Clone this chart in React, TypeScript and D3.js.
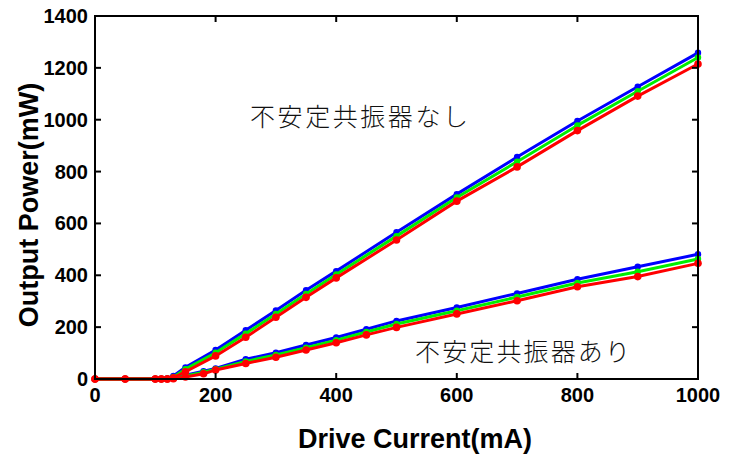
import React from "react";
import * as d3 from "d3";

const upperX = [0, 50, 100, 110, 120, 130, 150, 200, 250, 300, 350, 400, 500, 600, 700, 800, 900, 1000];
const upperBlue = [0, 0, 0, 0, 2, 12, 45, 112, 188, 264, 342, 416, 566, 713, 856, 995, 1127, 1258];
const upperGreen = [0, 0, 0, 0, 1, 8, 38, 101, 175, 251, 328, 403, 551, 700, 838, 978, 1110, 1240];
const upperRed = [0, 0, 0, 0, 0, 5, 28, 89, 161, 238, 315, 390, 536, 686, 818, 958, 1091, 1215];

const lowerX = [0, 50, 100, 110, 120, 130, 150, 180, 200, 250, 300, 350, 400, 450, 500, 600, 700, 800, 900, 1000];
const lowerBlue = [0, 0, 0, 0, 0, 3, 15, 30, 41, 76, 101, 131, 160, 192, 224, 276, 330, 385, 433, 481];
const lowerGreen = [0, 0, 0, 0, 0, 2, 12, 26, 38, 68, 93, 121, 150, 181, 212, 263, 316, 370, 414, 463];
const lowerRed = [0, 0, 0, 0, 0, 1, 8, 20, 35, 60, 84, 112, 140, 170, 199, 251, 302, 356, 395, 446];

const xTicks = [0, 200, 400, 600, 800, 1000];
const yTicks = [0, 200, 400, 600, 800, 1000, 1200, 1400];

const seriesColors = ["#0000ff", "#00ee00", "#ff0000"];

export default function App() {
  const left = 95, right = 698, top = 16, bottom = 379;
  const x = d3.scaleLinear().domain([0, 1000]).range([left, right]);
  const y = d3.scaleLinear().domain([0, 1400]).range([bottom, top]);
  const line = d3.line<[number, number]>().x(d => x(d[0])).y(d => y(d[1]));

  const groups = [
    { xs: upperX, ys: [upperBlue, upperGreen, upperRed] },
    { xs: lowerX, ys: [lowerBlue, lowerGreen, lowerRed] },
  ];

  const font = "'Liberation Sans', Arial, sans-serif";
  const jp = "'Noto Sans CJK JP', sans-serif";

  return (
    <svg width={734} height={457} style={{ position: "absolute", left: 0, top: 0, background: "#fff" }}>
      <rect x={0} y={0} width={734} height={457} fill="#fff" />
      {[0, 1, 2].map(si =>
        groups.map((g, gi) => {
          const pts: [number, number][] = g.xs.map((v, i) => [v, g.ys[si][i]]);
          return (
            <g key={`${si}-${gi}`}>
              <path d={line(pts) || ""} fill="none" stroke={seriesColors[si]} strokeWidth={3} strokeLinejoin="round" />
              {pts.map((p, i) => (
                <circle key={i} cx={x(p[0])} cy={y(p[1])} r={si === 2 ? 3.8 : 3.2} fill={seriesColors[si]} />
              ))}
            </g>
          );
        })
      )}
      <rect x={left} y={top} width={right - left} height={bottom - top} fill="none" stroke="#000" strokeWidth={2} />
      {xTicks.map(t => (
        <g key={`xt${t}`}>
          <line x1={x(t)} x2={x(t)} y1={bottom} y2={bottom - 6} stroke="#000" strokeWidth={2} />
          <line x1={x(t)} x2={x(t)} y1={top} y2={top + 6} stroke="#000" strokeWidth={2} />
          <text x={x(t)} y={402} textAnchor="middle" fontFamily={font} fontWeight="bold" fontSize={20}>{t}</text>
        </g>
      ))}
      {yTicks.map(t => (
        <g key={`yt${t}`}>
          <line x1={left} x2={left + 6} y1={y(t)} y2={y(t)} stroke="#000" strokeWidth={2} />
          <line x1={right} x2={right - 6} y1={y(t)} y2={y(t)} stroke="#000" strokeWidth={2} />
          <text x={88} y={y(t) + 7} textAnchor="end" fontFamily={font} fontWeight="bold" fontSize={20}>{t}</text>
        </g>
      ))}
      <text x={415} y={448} textAnchor="middle" fontFamily={font} fontWeight="bold" fontSize={27}>Drive Current(mA)</text>
      <text transform="translate(38,205) rotate(-90)" textAnchor="middle" fontFamily={font} fontWeight="bold" fontSize={27}>Output Power(mW)</text>
      <text x={250} y={126} fontFamily={jp} fontWeight={300} fontSize={25} textLength={218} fill="#111">不安定共振器なし</text>
      <text x={415} y={361} fontFamily={jp} fontWeight={300} fontSize={25} textLength={215} fill="#111">不安定共振器あり</text>
    </svg>
  );
}
